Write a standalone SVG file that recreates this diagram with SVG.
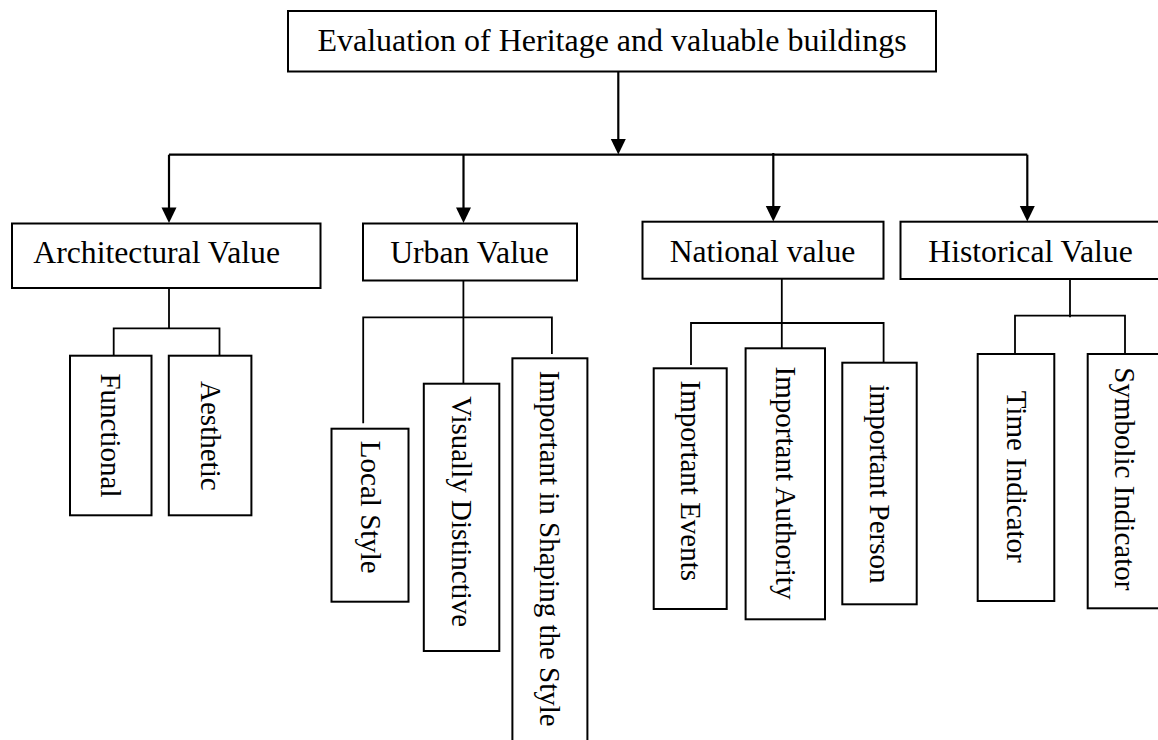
<svg xmlns="http://www.w3.org/2000/svg" xmlns:xlink="http://www.w3.org/1999/xlink" width="1158" height="740" viewBox="0 0 1158 740">
<style>
.box{fill:#fff;stroke:#000;stroke-width:2}
.t{font-family:"Liberation Serif","Times New Roman",serif;fill:#000}
.h{font-size:31.7px}
.v{font-size:29px;text-anchor:middle}
.main{fill:none;stroke:#000;stroke-width:2.2}
.sub{fill:none;stroke:#000;stroke-width:1.8}
</style>
<defs>
<polygon id="ah" points="-7.5,-15.5 7.5,-15.5 0,0" fill="#000"/>
</defs>
<rect width="1158" height="740" fill="#fff"/>
<g id="connectors">
<path class="main" d="M618.3 71.7 V140"/>
<use xlink:href="#ah" x="618.3" y="154.5"/>
<path class="main" d="M169 154.7 H1027.3"/>
<path class="main" d="M169 154.7 V208"/>
<use xlink:href="#ah" x="169" y="223"/>
<path class="main" d="M463.5 154.7 V208"/>
<use xlink:href="#ah" x="463.5" y="223"/>
<path class="main" d="M773.3 153 V206"/>
<use xlink:href="#ah" x="773.3" y="221.5"/>
<path class="main" d="M1027.3 154.7 V206"/>
<use xlink:href="#ah" x="1027.3" y="221.5"/>
<path class="sub" d="M169 288.5 V328.3 M113.7 355.7 V328.3 H219.5 V355.7"/>
<path class="sub" d="M463.4 280.5 V383.7 M363.2 423.3 V317.3 H551.9 V354"/>
<path class="sub" d="M781.8 278.7 V348.3 M691 365 V323 H883.6 V362.7"/>
<path class="sub" d="M1070 279 V317.3 M1015 353.3 V315.7 H1125 V353.3"/>
</g>
<g id="n-root">
<rect class="box" x="288" y="11" width="648" height="60.5"/>
<text class="t" x="612" y="51" font-size="32" text-anchor="middle">Evaluation of Heritage and valuable buildings</text>
</g>
<g id="n-architectural">
<rect class="box" x="12" y="223.5" width="308.5" height="64.5"/>
<text class="t h" x="33.3" y="263.3">Architectural Value</text>
</g>
<g id="n-urban">
<rect class="box" x="363" y="223.5" width="214" height="57"/>
<text class="t h" x="469.5" y="263.3" text-anchor="middle">Urban Value</text>
</g>
<g id="n-national">
<rect class="box" x="642.5" y="221.7" width="241" height="57"/>
<text class="t h" x="762.5" y="261.7" text-anchor="middle">National value</text>
</g>
<g id="n-historical">
<rect class="box" x="900.5" y="221.7" width="280" height="57.3"/>
<text class="t h" x="928.3" y="261.7">Historical Value</text>
</g>
<g id="n-functional">
<rect class="box" x="70" y="355.7" width="81.5" height="159.6"/>
<text class="t v" transform="translate(110.7 435.5) rotate(90)" y="9.5">Functional</text>
</g>
<g id="n-aesthetic">
<rect class="box" x="168.8" y="355.7" width="82.6" height="159.6"/>
<text class="t v" transform="translate(210.1 435.8) rotate(90)" y="9.5">Aesthetic</text>
</g>
<g id="n-localstyle">
<rect class="box" x="331.5" y="428.7" width="77" height="173"/>
<text class="t v" transform="translate(370 507.3) rotate(90)" y="9.5">Local Style</text>
</g>
<g id="n-visually">
<rect class="box" x="423.8" y="383.7" width="75.5" height="267.3"/>
<text class="t v" transform="translate(461.5 511.7) rotate(90)" y="9.5">Visually Distinctive</text>
</g>
<g id="n-shaping">
<rect class="box" x="512.4" y="358.3" width="75" height="400"/>
<text class="t v" transform="translate(549.9 548.7) rotate(90)" y="9.5">Important in Shaping the Style</text>
</g>
<g id="n-events">
<rect class="box" x="653.7" y="368.3" width="73" height="240.7"/>
<text class="t v" transform="translate(690.2 480.8) rotate(90)" y="9.5">Important Events</text>
</g>
<g id="n-authority">
<rect class="box" x="745.6" y="348.3" width="79.4" height="271"/>
<text class="t v" transform="translate(785.3 483) rotate(90)" y="9.5">Important Authority</text>
</g>
<g id="n-person">
<rect class="box" x="842.3" y="362.7" width="74.4" height="241.6"/>
<text class="t v" transform="translate(879.5 484) rotate(90)" y="9.5">important Person</text>
</g>
<g id="n-time">
<rect class="box" x="977.7" y="354" width="76.6" height="247"/>
<text class="t v" transform="translate(1016 476.7) rotate(90)" y="9.5">Time Indicator</text>
</g>
<g id="n-symbolic">
<rect class="box" x="1087.7" y="354" width="80" height="254.3"/>
<text class="t v" transform="translate(1124.5 478.8) rotate(90)" y="9.5">Symbolic Indicator</text>
</g>
</svg>
